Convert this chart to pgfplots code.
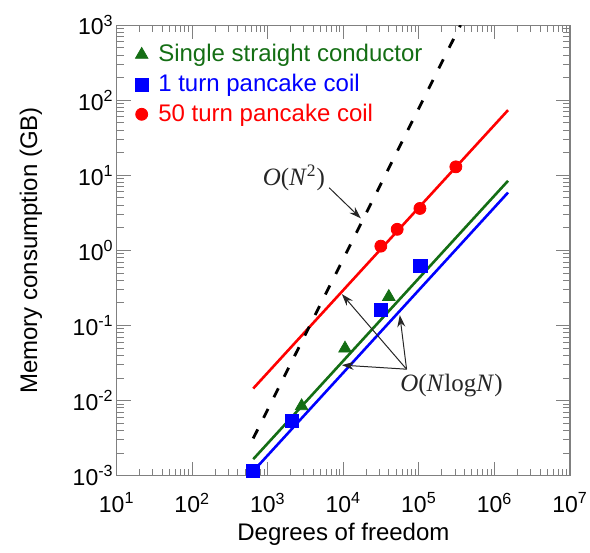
\documentclass[border=0pt]{standalone}
\usepackage{pgfplots}
\pgfplotsset{compat=1.18}
\usetikzlibrary{arrows.meta}
\usepackage{fontspec}
\setmainfont{Liberation Sans}
\newfontfamily\serif{Liberation Serif}
\definecolor{dgreen}{RGB}{20,110,20}
\definecolor{axgray}{RGB}{128,128,128}
\begin{document}
\begin{tikzpicture}
\useasboundingbox (-58.35pt,-38.6pt) rectangle (236.65pt,237.85pt);
\begin{axis}[
  scale only axis, width=226.7pt, height=225.3pt,
  xmode=log, ymode=log, log basis x=10, log basis y=10,
  xmin=10, xmax=1e7, ymin=1e-3, ymax=1e3,
  axis line style={axgray, line width=0.6pt},
  tick style={axgray, line width=0.5pt},
  major tick length=7pt, minor tick length=3.5pt,
  tick align=inside,
  xticklabel={10\textsuperscript{\pgfmathparse{int(round(\tick))}\pgfmathresult}},
  yticklabel={10\textsuperscript{\pgfmathparse{int(round(\tick))}\pgfmathresult}},
  tick label style={font=\fontsize{11.5}{13}\selectfont},
  xticklabel style={yshift=-5pt},
  yticklabel style={xshift=2pt},
  xlabel={Degrees of freedom}, ylabel={Memory consumption (GB)},
  label style={font=\fontsize{12}{14}\selectfont},
  xlabel style={yshift=2pt},
  ylabel style={yshift=8.5pt},
  legend style={at={(axis description cs:0,1)}, anchor=north west, xshift=6pt, yshift=-6pt,
    draw=none, fill=none, font=\fontsize{12}{14}\selectfont, row sep=1.7pt, column sep=3.5pt,
    nodes={inner sep=1.5pt}},
  legend cell align=left,
]
\addplot[dgreen, line width=1.3pt, forget plot] coordinates {(641,0.00166) (1.51e6,8.45)};
\addplot[blue, line width=1.3pt, forget plot] coordinates {(641,0.00115) (1.51e6,5.9)};
\addplot[red, line width=1.3pt, forget plot] coordinates {(641,0.0145) (1.51e6,73.8)};
\addplot[black, line width=1.4pt, dash pattern=on 5pt off 6.5pt, forget plot] coordinates {(641,0.00314) (3.55e5,1000)};
\addplot[only marks, mark=triangle*, mark size=3.6pt, dgreen] coordinates {(2800,0.00845) (10500,0.0495) (39900,0.241)};
\addlegendentry{\textcolor{dgreen}{Single straight conductor}}
\addplot[only marks, mark=square*, mark size=3.3pt, blue] coordinates {(641,0.00115) (2100,0.00533) (31300,0.160) (104500,0.618)};
\addlegendentry{\textcolor{blue}{1 turn pancake coil}}
\addplot[only marks, mark=*, mark size=3pt, red] coordinates {(31300,1.14) (51500,1.91) (103000,3.62) (308000,12.97)};
\addlegendentry{\textcolor{red}{50 turn pancake coil}}
\node[font=\serif\fontsize{12.5}{15}\selectfont, text=black!85] at (axis cs:2213,9.18) {\textit{O}(\textit{N}\textsuperscript{2})};
\draw[-{Stealth[length=6pt,width=4pt]}, line width=0.5pt, black!85] (axis cs:6486,6.83) -- (axis cs:17020,2.67);
\node[font=\serif\fontsize{12.5}{15}\selectfont, text=black!85] at (axis cs:2.69e5,0.0158) {\textit{O}(\textit{N}log\textit{N})};
\draw[-{Stealth[length=6pt,width=4pt]}, line width=0.5pt, black!85] (axis cs:68550,0.0262) -- (axis cs:9550,0.262);
\draw[-{Stealth[length=6pt,width=4pt]}, line width=0.5pt, black!85] (axis cs:68550,0.0262) -- (axis cs:9550,0.0297);
\draw[-{Stealth[length=6pt,width=4pt]}, line width=0.5pt, black!85] (axis cs:68550,0.0262) -- (axis cs:55800,0.1377);
\end{axis}
\end{tikzpicture}
\end{document}
